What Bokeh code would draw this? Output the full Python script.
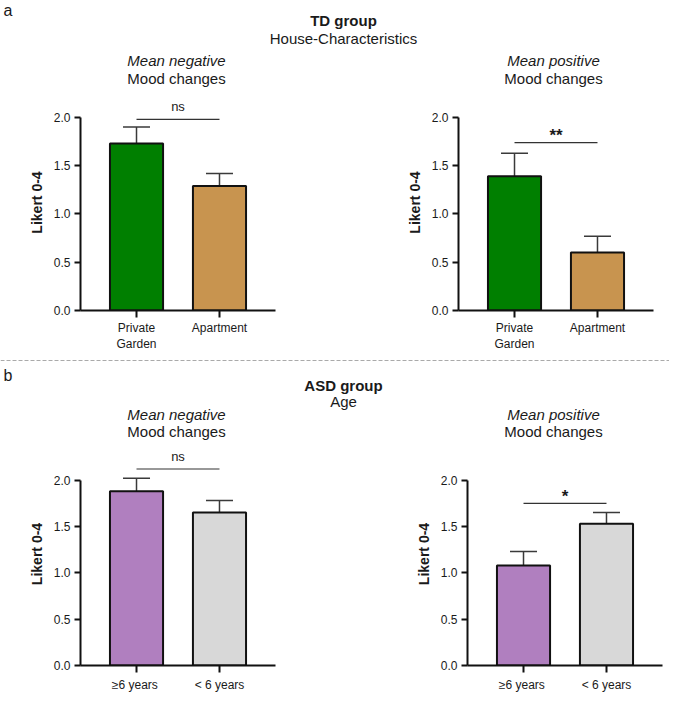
from bokeh.plotting import figure
from bokeh.models import (FactorRange, Range1d, FixedTicker, PrintfTickFormatter,
                          ColumnDataSource, Whisker, TeeHead, Span)
from bokeh.transform import dodge
from bokeh.layouts import column, row
from bokeh.embed import file_html
from bokeh.resources import INLINE
from bokeh.core.properties import value

FONT = "Liberation Sans"
INK = "#1a1a1a"

# ---------------- data ----------------
td_categories = ["Private\nGarden", "Apartment"]
td_neg_mean = [1.73, 1.29]
td_neg_sem = [0.17, 0.13]
td_pos_mean = [1.39, 0.60]
td_pos_sem = [0.24, 0.17]
td_neg_sig, td_neg_sig_y = "ns", 1.98
td_pos_sig, td_pos_sig_y = "**", 1.74

asd_categories = ["\u22656  years", "< 6 years"]
asd_neg_mean = [1.88, 1.65]
asd_neg_sem = [0.14, 0.13]
asd_pos_mean = [1.08, 1.53]
asd_pos_sem = [0.15, 0.12]
asd_neg_sig, asd_neg_sig_y = "ns", 2.12
asd_pos_sig, asd_pos_sig_y = "*", 1.75

td_colors = ["#007f00", "#c8944f"]
asd_colors = ["#b07fbf", "#d8d8d8"]
y_ticks = [0.0, 0.5, 1.0, 1.5, 2.0]
y_axis_label = "Likert 0-4"

td_titles = ["TD group", "House-Characteristics"]
asd_titles = ["ASD group", "Age"]
panel_titles_italic = ["Mean negative", "Mean positive"]
panel_titles_plain = ["Mood changes", "Mood changes"]
section_letters = ["a", "b"]

TOTAL_W = 669
LEFT_W = 340
RIGHT_W = TOTAL_W - LEFT_W
FRAME_W = 195


def panel(cats, means, sems, colors, sig_text, sig_y, sig_offset, sig_size,
          sig_style, width, bl, height, y_end, bb, label_standoff):
    p = figure(width=width, height=height,
               x_range=FactorRange(*cats, range_padding=0.175,
                                   range_padding_units="absolute"),
               y_range=Range1d(0, y_end), output_backend="svg",
               toolbar_location=None, min_border_left=bl,
               min_border_right=width - bl - FRAME_W, min_border_top=0,
               min_border_bottom=bb)
    p.outline_line_color = None
    p.grid.visible = False
    p.background_fill_color = "white"
    p.border_fill_color = "white"
    src = ColumnDataSource(dict(
        x=cats, top=means,
        upper=[m + s for m, s in zip(means, sems)], color=colors))
    p.add_layout(Whisker(source=src, base="x", lower="top", upper="upper",
                         line_color="#3a3a3a", line_width=1.5,
                         upper_head=TeeHead(size=27, line_color="#3a3a3a",
                                            line_width=1.5),
                         lower_head=None))
    p.vbar(x="x", top="top", width=0.64, source=src, fill_color="color",
           line_color="#111111", line_width=2)
    sig = ColumnDataSource(dict(x0=[cats[0]], x1=[cats[1]], y=[sig_y],
                                t=[sig_text]))
    p.segment(x0="x0", y0="y", x1="x1", y1="y", source=sig,
              line_color="#333333", line_width=1.2)
    p.text(x=dodge("x0", 0.5, range=p.x_range), y="y", text="t", source=sig,
           text_align="center", text_baseline="alphabetic", y_offset=sig_offset,
           text_font=value(FONT), text_font_size=sig_size,
           text_font_style=sig_style, text_color=INK)

    ya = p.yaxis[0]
    ya.ticker = FixedTicker(ticks=y_ticks, minor_ticks=[])
    ya.formatter = PrintfTickFormatter(format="%.1f")
    ya.bounds = (0, 2)
    ya.axis_label = y_axis_label
    ya.axis_label_text_font = FONT
    ya.axis_label_text_font_style = "bold"
    ya.axis_label_text_font_size = "14px"
    ya.axis_label_text_color = INK
    ya.axis_label_standoff = 6
    xa = p.xaxis[0]
    for ax in (xa, ya):
        ax.axis_line_width = 2
        ax.axis_line_color = "#111111"
        ax.major_tick_line_width = 2
        ax.major_tick_line_color = "#111111"
        ax.major_tick_in = 0
        ax.major_tick_out = 6
        ax.minor_tick_line_color = None
        ax.major_label_text_font = FONT
        ax.major_label_text_font_size = "12px"
        ax.major_label_text_color = INK
        ax.major_label_standoff = 4
    xa.major_tick_out = 7
    xa.major_label_standoff = label_standoff
    return p


def header(height):
    h = figure(width=TOTAL_W, height=height, x_range=Range1d(0, TOTAL_W),
               y_range=Range1d(height, 0), x_axis_location=None,
               y_axis_location=None, min_border=0, toolbar_location=None,
               output_backend="svg")
    h.outline_line_color = None
    h.grid.visible = False
    return h


def htext(h, x, y, t, style="normal", size="15px", align="center"):
    h.text(x=[x], y=[y], text=[t], text_align=align, text_baseline="middle",
           text_font=value(FONT), text_font_size=size,
           text_font_style=style, text_color=INK)


LX, CX, RX = 176, 343, 553

# ---- header a ----
hA = header(94)
htext(hA, 3, 10, section_letters[0], size="16px", align="left")
htext(hA, CX, 20, td_titles[0], style="bold")
htext(hA, CX, 38, td_titles[1])
htext(hA, LX, 60, panel_titles_italic[0], style="italic")
htext(hA, LX, 78, panel_titles_plain[0])
htext(hA, RX, 60, panel_titles_italic[1], style="italic")
htext(hA, RX, 78, panel_titles_plain[1])

# ---- top row ----
TOP_H = 261
TOP_YEND = 2.238
tl = panel(td_categories, td_neg_mean, td_neg_sem, td_colors, td_neg_sig,
           td_neg_sig_y, -13, "13px", "normal", LEFT_W, 80,
           TOP_H, TOP_YEND, 45, 3)
tr = panel(td_categories, td_pos_mean, td_pos_sem, td_colors, td_pos_sig,
           td_pos_sig_y, -7, "17px", "bold", RIGHT_W, 118,
           TOP_H, TOP_YEND, 45, 3)

# ---- header b ----
hB = header(87)
hB.add_layout(Span(location=5, dimension="width", line_color="#aaaaaa",
                   line_width=1, line_dash="4 2"))
htext(hB, 3, 20, section_letters[1], size="16px", align="left")
htext(hB, CX, 30, asd_titles[0], style="bold")
htext(hB, CX, 46, asd_titles[1])
htext(hB, LX, 59, panel_titles_italic[0], style="italic")
htext(hB, LX, 76, panel_titles_plain[0])
htext(hB, RX, 59, panel_titles_italic[1], style="italic")
htext(hB, RX, 76, panel_titles_plain[1])

# ---- bottom row ----
BOT_H = 252
BOT_YEND = 2.406
bl_ = panel(asd_categories, asd_neg_mean, asd_neg_sem, asd_colors, asd_neg_sig,
            asd_neg_sig_y, -13, "13px", "normal", LEFT_W, 80,
            BOT_H, BOT_YEND, 27, 5)
br_ = panel(asd_categories, asd_pos_mean, asd_pos_sem, asd_colors, asd_pos_sig,
            asd_pos_sig_y, -7, "17px", "bold", RIGHT_W, 127,
            BOT_H, BOT_YEND, 27, 5)

p = column(hA, row(tl, tr, spacing=0), hB, row(bl_, br_, spacing=0), spacing=0)

open("out.html", "w").write(file_html(p, INLINE))
